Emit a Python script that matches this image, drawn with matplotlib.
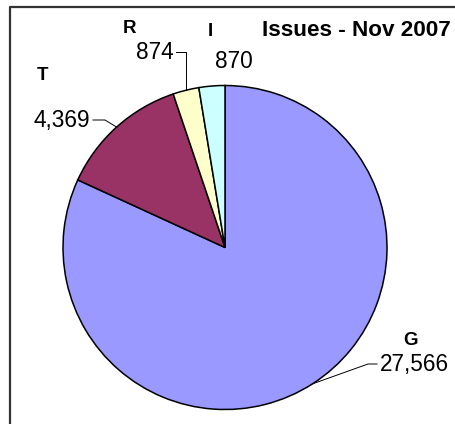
import numpy as np
import matplotlib
matplotlib.use("Agg")
import matplotlib.pyplot as plt

plt.rcParams['font.family'] = ['Liberation Sans', 'DejaVu Sans']

# data
categories = ['G', 'T', 'R', 'I']
values = [27566, 4369, 874, 870]
colors = ['#9999FF', '#993366', '#FFFFCC', '#CCFFFF']
title = 'Issues - Nov 2007'

W, H = 455, 424
fig = plt.figure(figsize=(W / 100, H / 100), dpi=100)
ax = fig.add_axes([0, 0, 1, 1])

cx, cy, r = 225, H - 247.5, 162
wedges, _ = ax.pie(values, colors=colors, startangle=90, counterclock=False,
                   center=(cx, cy), radius=r,
                   wedgeprops=dict(edgecolor='black', linewidth=1.1))
ax.set_xlim(0, W)
ax.set_ylim(0, H)
ax.axis('off')

def edge_point(w):
    a = np.deg2rad((w.theta1 + w.theta2) / 2)
    return cx + r * np.cos(a), cy + r * np.sin(a)

# label layout: (name x, name baseline, value x, value baseline, leader start x, leader elbow x)
layout = {
    'G': (403, 345, 380, 371, 377, 368),
    'T': (37, 80, 34, 127, 93, 105),
    'R': (123, 33, 136, 59, 176, None),
    'I': (208, 36, 215, 68, None, None),
}

for w, cat, val in zip(wedges, categories, values):
    nx, ny, vx, vy, lx, ex = layout[cat]
    ax.text(nx, H - ny, cat, fontsize=13.5, fontweight='bold', ha='left', va='baseline')
    ax.text(vx, H - vy, f'{val:,}', fontsize=16.3, ha='left', va='baseline')
    if lx is not None:
        px, py = edge_point(w)
        ly = H - vy + 7
        if ex is None:
            ex = px
        ax.plot([lx, ex, px], [ly, ly, py], color='black', lw=0.7)

ax.text(262, H - 36, title, fontsize=16.2, fontweight='bold', ha='left', va='baseline')

# chart frame (clipped on right and bottom)
ax.plot([10, 10, W + 5], [-5, H - 7, H - 7], color='#333333', lw=1.6, clip_on=False)

fig.savefig('out.png', dpi=100)
